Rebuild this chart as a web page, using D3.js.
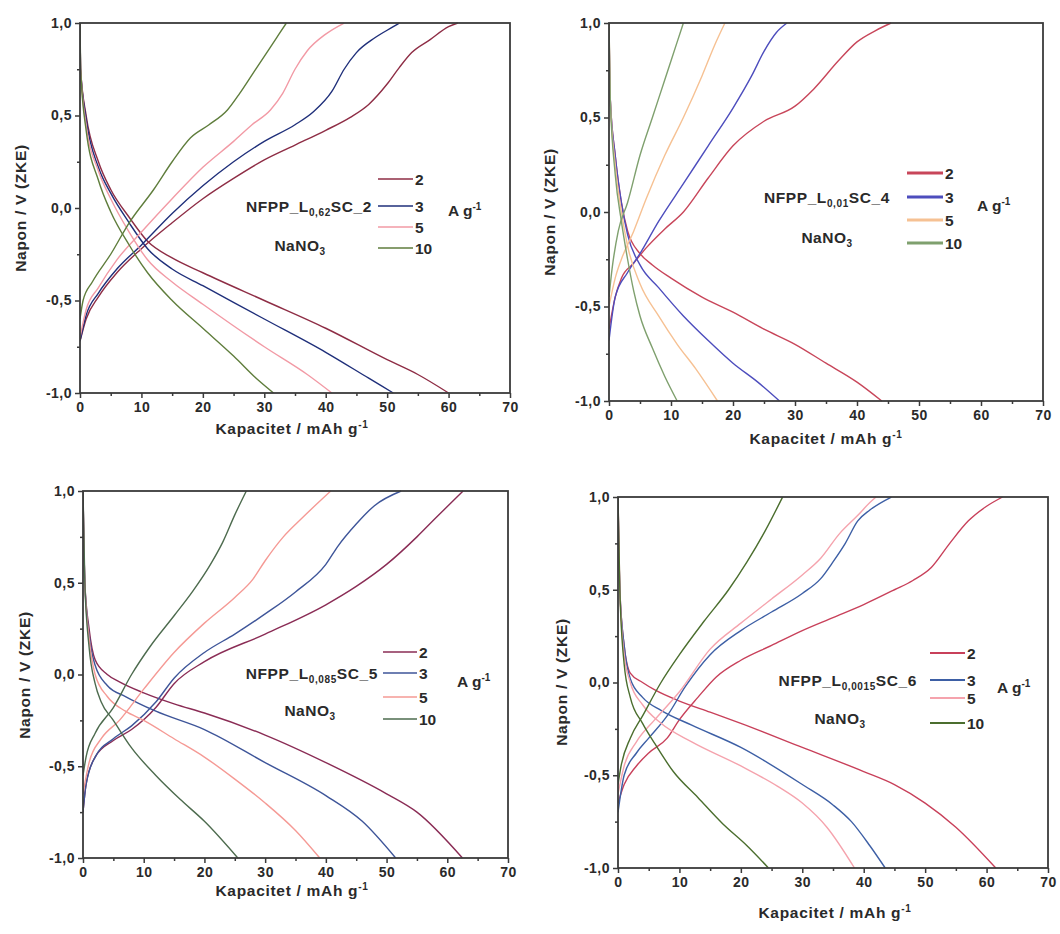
<!DOCTYPE html>
<html><head><meta charset="utf-8">
<script src="https://cdn.jsdelivr.net/npm/d3@7"></script>
<style>
body{margin:0;background:#fff}
svg{display:block}
text{font-family:"Liberation Sans",Arial,sans-serif;font-weight:bold;fill:#2a2a2a}
</style>
</head><body>
<svg id="chart" width="1060" height="934"></svg>
<script>
// ---------------- DATA ----------------
const rates = ["2", "3", "5", "10"];
const xTickValues = [0, 10, 20, 30, 40, 50, 60, 70];
const yTickValues = [-1, -0.5, 0, 0.5, 1];
const xMinorTicks = [5, 15, 25, 35, 45, 55, 65];
const yMinorTicks = [-0.75, -0.25, 0.25, 0.75];
const xTitle = "Kapacitet / mAh g";
const yTitle = "Napon / V (ZKE)";
const sampleSubs = ["0,62", "0,01", "0,085", "0,0015"];
const sampleSuffix = ["SC_2", "SC_4", "SC_5", "SC_6"];

// Panel 1: NFPP_L0,62SC_2 — charge (rising) curves per rate [capacity, voltage]
const sc2Charge = [
  [[0,-0.72],[1,-0.6],[3,-0.48],[6,-0.35],[10,-0.22],[15,-0.08],[20,0.05],[25,0.16],[30,0.26],[35,0.34],[40,0.42],[44,0.49],[47,0.56],[50,0.67],[52,0.76],[54,0.84],[57,0.91],[60,0.98],[61.5,1.0]],
  [[0,-0.72],[1,-0.58],[3,-0.46],[6,-0.33],[10,-0.2],[15,-0.03],[20,0.12],[25,0.25],[30,0.36],[35,0.45],[38,0.52],[41,0.63],[43,0.75],[45,0.84],[48,0.92],[51,0.98],[52,1.0]],
  [[0,-0.7],[1,-0.55],[3,-0.43],[6,-0.28],[10,-0.13],[15,0.05],[20,0.22],[25,0.36],[28,0.45],[31,0.53],[33,0.62],[35,0.75],[37,0.85],[40,0.94],[43,1.0]],
  [[0,-0.6],[0.5,-0.5],[2,-0.4],[5,-0.25],[8,-0.08],[12,0.1],[15,0.25],[18,0.38],[21,0.45],[24,0.53],[26,0.62],[28,0.72],[30,0.82],[32,0.92],[33.6,1.0]]
];
const sc2Discharge = [
  [[0,1.0],[0.1,0.75],[1,0.5],[3,0.25],[5,0.1],[8,-0.05],[11,-0.18],[15,-0.27],[20,-0.35],[30,-0.5],[40,-0.65],[50,-0.82],[55,-0.9],[60,-1.0]],
  [[0,1.0],[0.1,0.75],[1,0.48],[3,0.22],[5,0.08],[8,-0.08],[11,-0.22],[15,-0.33],[20,-0.42],[30,-0.6],[40,-0.78],[47,-0.92],[51,-1.0]],
  [[0,1.0],[0.1,0.75],[1,0.45],[3,0.2],[5,0.05],[8,-0.13],[11,-0.28],[15,-0.4],[20,-0.52],[30,-0.75],[37,-0.9],[41,-1.0]],
  [[0,1.0],[0.1,0.75],[1,0.42],[3,0.15],[5,-0.02],[8,-0.2],[11,-0.35],[15,-0.5],[20,-0.65],[25,-0.8],[29,-0.93],[31.5,-1.0]]
];

// Panel 2: NFPP_L0,01SC_4
const sc4Charge = [
  [[0,-0.62],[1,-0.45],[2,-0.35],[4,-0.27],[6,-0.19],[9,-0.09],[12,0.0],[16,0.18],[20,0.35],[25,0.48],[30,0.56],[33,0.65],[37,0.8],[40,0.9],[43,0.96],[45.5,1.0]],
  [[0,-0.68],[1,-0.45],[3,-0.32],[5,-0.22],[8,-0.05],[12,0.15],[16,0.35],[20,0.55],[23,0.72],[25,0.85],[27,0.95],[28.7,1.0]],
  [[0,-0.5],[1,-0.35],[2,-0.25],[4,-0.1],[6,0.07],[9,0.3],[12,0.5],[15,0.72],[17,0.88],[18.7,1.0]],
  [[0,-0.45],[0.5,-0.3],[1.5,-0.1],[3,0.05],[5,0.3],[7,0.5],[9,0.7],[11,0.9],[12,1.0]]
];
const sc4Discharge = [
  [[0,1.0],[0.2,0.6],[1,0.3],[2,0.05],[3,-0.1],[5,-0.22],[7,-0.28],[10,-0.35],[15,-0.45],[20,-0.53],[25,-0.62],[30,-0.7],[35,-0.8],[40,-0.9],[44,-1.0]],
  [[0,1.0],[0.2,0.6],[1,0.3],[2,0.05],[3,-0.12],[5,-0.28],[8,-0.4],[12,-0.55],[16,-0.68],[20,-0.8],[24,-0.9],[27.5,-1.0]],
  [[0,1.0],[0.2,0.6],[1,0.25],[2,0.0],[3,-0.18],[5,-0.38],[8,-0.55],[11,-0.7],[14,-0.83],[17.5,-1.0]],
  [[0,1.0],[0.2,0.6],[1,0.2],[2,-0.05],[3,-0.25],[4,-0.42],[5,-0.55],[7,-0.72],[9,-0.87],[11,-1.0]]
];

// Panel 3: NFPP_L0,085SC_5
const sc5Charge = [
  [[0,-0.75],[0.5,-0.6],[2,-0.45],[5,-0.36],[8,-0.3],[12,-0.18],[15,-0.05],[20,0.07],[30,0.22],[40,0.38],[45,0.48],[50,0.6],[55,0.75],[58,0.85],[62.6,1.0]],
  [[0,-0.75],[0.5,-0.6],[2,-0.45],[5,-0.35],[8,-0.28],[12,-0.15],[15,-0.02],[20,0.12],[25,0.22],[30,0.33],[35,0.45],[40,0.6],[42,0.7],[45,0.82],[48,0.92],[52.4,1.0]],
  [[0,-0.65],[1,-0.48],[3,-0.35],[6,-0.25],[10,-0.08],[15,0.12],[20,0.28],[25,0.42],[28,0.52],[30,0.62],[33,0.75],[36,0.85],[40.8,1.0]],
  [[0,-0.55],[0.5,-0.45],[2,-0.32],[5,-0.18],[8,0.0],[11,0.15],[15,0.32],[18,0.45],[21,0.6],[23,0.72],[25,0.87],[26.9,1.0]]
];
const sc5Discharge = [
  [[0,1.0],[0.3,0.5],[1,0.25],[2,0.08],[4,0.0],[6,-0.04],[10,-0.1],[15,-0.16],[20,-0.21],[30,-0.33],[40,-0.48],[50,-0.65],[55,-0.75],[62.5,-1.0]],
  [[0,1.0],[0.3,0.5],[1,0.22],[2,0.05],[4,-0.06],[7,-0.12],[12,-0.2],[20,-0.3],[30,-0.48],[40,-0.66],[46,-0.8],[51.5,-1.0]],
  [[0,1.0],[0.3,0.5],[1,0.2],[2,0.0],[4,-0.12],[7,-0.2],[10,-0.25],[15,-0.35],[20,-0.45],[25,-0.57],[30,-0.7],[35,-0.85],[39,-1.0]],
  [[0,1.0],[0.3,0.5],[1,0.15],[2,-0.05],[3,-0.15],[5,-0.25],[8,-0.4],[12,-0.55],[16,-0.68],[20,-0.8],[25.5,-1.0]]
];

// Panel 4: NFPP_L0,0015SC_6
const sc6Charge = [
  [[0,-0.65],[1,-0.55],[3,-0.45],[5,-0.38],[8,-0.3],[10,-0.2],[13,-0.08],[16,0.03],[20,0.12],[25,0.2],[30,0.28],[35,0.35],[40,0.42],[45,0.5],[48,0.55],[51,0.62],[54,0.75],[57,0.87],[60,0.95],[62.6,1.0]],
  [[0,-0.7],[1,-0.5],[3,-0.38],[5,-0.3],[8,-0.18],[11,-0.02],[15,0.15],[20,0.28],[25,0.38],[30,0.48],[33,0.56],[35,0.65],[37,0.75],[39,0.87],[41,0.93],[44.5,1.0]],
  [[0,-0.6],[1,-0.45],[3,-0.32],[6,-0.2],[10,-0.05],[15,0.18],[20,0.32],[25,0.45],[30,0.58],[33,0.67],[36,0.8],[39,0.9],[41,0.97],[42,1.0]],
  [[0,-0.55],[0.5,-0.45],[2,-0.3],[4,-0.18],[7,0.0],[10,0.15],[14,0.33],[18,0.5],[21,0.65],[24,0.82],[26.8,1.0]]
];
const sc6Discharge = [
  [[0,1.0],[0.3,0.5],[1,0.2],[2,0.05],[4,0.0],[6,-0.04],[10,-0.1],[15,-0.16],[20,-0.22],[30,-0.35],[40,-0.48],[45,-0.55],[50,-0.65],[55,-0.78],[61.5,-1.0]],
  [[0,1.0],[0.3,0.5],[1,0.2],[2,0.02],[4,-0.08],[7,-0.15],[12,-0.23],[20,-0.35],[30,-0.55],[35,-0.66],[38,-0.75],[41,-0.88],[43.5,-1.0]],
  [[0,1.0],[0.3,0.5],[1,0.15],[2,0.0],[4,-0.12],[7,-0.22],[12,-0.32],[20,-0.45],[26,-0.56],[30,-0.65],[34,-0.78],[38.5,-1.0]],
  [[0,1.0],[0.3,0.5],[1,0.1],[2,-0.08],[4,-0.22],[6,-0.33],[9,-0.48],[13,-0.62],[17,-0.76],[21,-0.88],[24.5,-1.0]]
];

// ---------------- LAYOUT / STYLE ----------------
const panels = [
  {charge: sc2Charge, discharge: sc2Discharge, sub: sampleSubs[0], suffix: sampleSuffix[0],
   left: 80, top: 23, w: 430, h: 370,
   colors: ["#8e2d45", "#1f2f7a", "#f29aa5", "#5f7d3c"], legendW: 1.5,
   leg: {lx: 298, len: 35, rows: [156, 183, 204, 225], tEnd: 292, tY: 183, nX: 220, nY: 222, aX: 368, aY: 187},
   xt: [292, 428], yt: [20, 208]},
  {charge: sc4Charge, discharge: sc4Discharge, sub: sampleSubs[1], suffix: sampleSuffix[1],
   left: 609, top: 23, w: 434, h: 378,
   colors: ["#c8465a", "#4d4dbd", "#f6c193", "#7fa06e"], legendW: 3,
   leg: {lx: 298, len: 36, rows: [150, 174, 197, 220], tEnd: 281, tY: 174, nX: 218, nY: 214, aX: 368, aY: 182},
   xt: [826, 438], yt: [549, 212]},
  {charge: sc5Charge, discharge: sc5Discharge, sub: sampleSubs[2], suffix: sampleSuffix[2],
   left: 83, top: 491, w: 425, h: 367,
   colors: ["#8a2c55", "#3e5599", "#f59a95", "#4d6b4e"], legendW: 1.5,
   leg: {lx: 300, len: 34, rows: [161, 182, 206, 228], tEnd: 295, tY: 182, nX: 227, nY: 219, aX: 374, aY: 190},
   xt: [292, 890], yt: [24, 675]},
  {charge: sc6Charge, discharge: sc6Discharge, sub: sampleSubs[3], suffix: sampleSuffix[3],
   left: 618, top: 497, w: 430, h: 371,
   colors: ["#c8405a", "#3d5fa5", "#f5a3ad", "#4b6e2e"], legendW: 1.8,
   leg: {lx: 312, len: 35, rows: [156, 183, 201, 226], tEnd: 299, tY: 183, nX: 222, nY: 221, aX: 379, aY: 190},
   xt: [835, 912], yt: [561, 682]}
];

const svg = d3.select("#chart");
const axisColor = "#3a3a3a";
const legendFont = 15.5;
const titleFont = 15.5;

panels.forEach(p => {
  const x = d3.scaleLinear().domain([0, 70]).range([0, p.w]);
  const y = d3.scaleLinear().domain([-1, 1]).range([p.h, 0]);
  const g = svg.append("g").attr("transform", `translate(${p.left},${p.top})`);

  const clipId = "clip" + p.left + "_" + p.top;
  g.append("clipPath").attr("id", clipId).append("rect")
    .attr("x", 0).attr("y", -1).attr("width", p.w).attr("height", p.h + 2);

  const line = d3.line().x(d => x(d[0])).y(d => y(d[1])).curve(d3.curveMonotoneX);
  const curves = g.append("g").attr("clip-path", `url(#${clipId})`);
  rates.forEach((r, i) => {
    [p.charge[i], p.discharge[i]].forEach(series => {
      curves.append("path").datum(series)
        .attr("d", line).attr("fill", "none")
        .attr("stroke", p.colors[i]).attr("stroke-width", 1.4)
        .attr("stroke-linejoin", "round");
    });
  });

  // axes
  const xAxis = d3.axisBottom(x).tickValues(xTickValues).tickSize(5).tickPadding(4)
    .tickFormat(d => d3.format("d")(d));
  const yAxis = d3.axisLeft(y).tickValues(yTickValues).tickSize(5).tickPadding(3)
    .tickFormat(d => d3.format(".1f")(d).replace(".", ",").replace("−", "-"));
  const gx = g.append("g").attr("transform", `translate(0,${p.h})`).call(xAxis);
  const gy = g.append("g").call(yAxis);
  const gxm = g.append("g").attr("transform", `translate(0,${p.h})`)
    .call(d3.axisBottom(x).tickValues(xMinorTicks).tickSize(3).tickFormat(""));
  const gym = g.append("g")
    .call(d3.axisLeft(y).tickValues(yMinorTicks).tickSize(3).tickFormat(""));
  [gx, gy, gxm, gym].forEach(a => {
    a.select(".domain").remove();
    a.selectAll("line").attr("stroke", axisColor).attr("stroke-width", 1.5);
    a.selectAll("text").attr("font-size", 14).attr("fill", "#2a2a2a")
      .style("font-family", '"Liberation Sans",Arial,sans-serif').style("font-weight", "bold")
      .style("letter-spacing", "0.5px");
  });
  // frame
  g.append("rect").attr("x", 0).attr("y", 0).attr("width", p.w).attr("height", p.h)
    .attr("fill", "none").attr("stroke", axisColor).attr("stroke-width", 1.8);

  // legend
  const L = p.leg;
  rates.forEach((r, i) => {
    g.append("line").attr("x1", L.lx).attr("x2", L.lx + L.len)
      .attr("y1", L.rows[i]).attr("y2", L.rows[i])
      .attr("stroke", p.colors[i]).attr("stroke-width", p.legendW);
    g.append("text").attr("x", L.lx + L.len + 2).attr("y", L.rows[i]).attr("dy", "0.36em")
      .attr("font-size", legendFont).text(r);
  });
  const st = g.append("text").attr("x", L.tEnd).attr("y", L.tY).attr("dy", "0.36em")
    .attr("text-anchor", "end").attr("font-size", legendFont).style("letter-spacing", "0.6px");
  st.append("tspan").text("NFPP_L");
  st.append("tspan").attr("font-size", 10).attr("dy", 4).text(p.sub);
  st.append("tspan").attr("dy", -4).text(p.suffix);
  const nt = g.append("text").attr("x", L.nX).attr("y", L.nY).attr("dy", "0.36em")
    .attr("text-anchor", "middle").attr("font-size", legendFont).style("letter-spacing", "0.5px");
  nt.append("tspan").text("NaNO");
  nt.append("tspan").attr("font-size", 10).attr("dy", 4).text("3");
  const at = g.append("text").attr("x", L.aX).attr("y", L.aY).attr("dy", "0.36em")
    .attr("font-size", legendFont);
  at.append("tspan").text("A g");
  at.append("tspan").attr("font-size", 10).attr("dy", -6).text("-1");

  // axis titles
  const xtT = svg.append("text").attr("x", p.xt[0]).attr("y", p.xt[1]).attr("dy", "0.36em")
    .attr("text-anchor", "middle").attr("font-size", titleFont).style("letter-spacing", "0.7px");
  xtT.append("tspan").text(xTitle);
  xtT.append("tspan").attr("font-size", 10).attr("dy", -6).text("-1");
  svg.append("text").attr("transform", `translate(${p.yt[0]},${p.yt[1]}) rotate(-90)`)
    .attr("dy", "0.36em").attr("text-anchor", "middle").attr("font-size", titleFont)
    .style("letter-spacing", "0.7px").text(yTitle);
});
</script>
</body></html>
